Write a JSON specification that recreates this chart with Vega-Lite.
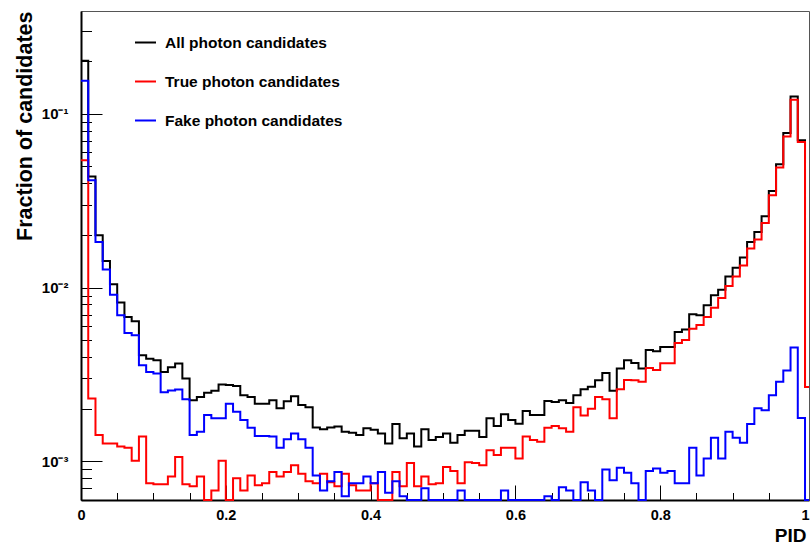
{
  "$schema": "https://vega.github.io/schema/vega-lite/v6.json",
  "width": 728,
  "height": 489,
  "autosize": {"type": "none"},
  "padding": {"left": 81, "top": 11, "right": 2, "bottom": 46},
  "background": "white",
  "config": {
    "view": {"stroke": "#555555", "strokeWidth": 1},
    "font": "Liberation Sans"
  },
  "encoding": {
    "x": {
      "field": "x",
      "type": "quantitative",
      "scale": {"domain": [0, 1.0055], "nice": false, "zero": false, "clamp": true},
      "axis": {
        "title": "PID",
        "titleFont": "Liberation Sans",
        "titleFontSize": 19,
        "titleFontWeight": "bold",
        "titleColor": "black",
        "titleAnchor": "end",
        "titleAlign": "right",
        "titleBaseline": "bottom",
        "titleX": 725,
        "titleY": 45.5,
        "values": [0, 0.05, 0.1, 0.15, 0.2, 0.25, 0.3, 0.35, 0.4, 0.45, 0.5, 0.55, 0.6, 0.65, 0.7, 0.75, 0.8, 0.85, 0.9, 0.95, 1],
        "labelExpr": "abs(datum.value*5 - round(datum.value*5)) < 0.01 ? format(datum.value, '~g') : ''",
        "labelFont": "Liberation Sans",
        "labelFontSize": 14.5,
        "labelFontWeight": "bold",
        "labelColor": "black",
        "labelBaseline": "top",
        "labelPadding": 23,
        "labelOverlap": false,
        "labelFlush": false,
        "tickSize": {"condition": {"test": "abs(datum.value*5 - round(datum.value*5)) < 0.01", "value": -15}, "value": -7.5},
        "tickColor": "black",
        "tickWidth": 1,
        "domainColor": "black",
        "domainWidth": 2,
        "grid": false
      }
    },
    "y": {
      "field": "y",
      "type": "quantitative",
      "scale": {"type": "log", "domain": [0.0006, 0.39], "nice": false, "clamp": true},
      "axis": {
        "title": "Fraction of candidates",
        "titleFont": "Liberation Sans",
        "titleFontSize": 21.5,
        "titleFontWeight": "bold",
        "titleColor": "black",
        "titleAngle": 270,
        "titleAnchor": "end",
        "titleAlign": "right",
        "titleBaseline": "alphabetic",
        "titleX": -50,
        "titleY": 0,
        "values": [0.0007, 0.0008, 0.0009, 0.001, 0.002, 0.003, 0.004, 0.005, 0.006, 0.007, 0.008, 0.009, 0.01, 0.02, 0.03, 0.04, 0.05, 0.06, 0.07, 0.08, 0.09, 0.1, 0.2, 0.3],
        "labelExpr": "datum.value > 0.095 && datum.value < 0.105 ? '10⁻¹' : datum.value > 0.0095 && datum.value < 0.0105 ? '10⁻²' : datum.value > 0.00095 && datum.value < 0.00105 ? '10⁻³' : ''",
        "labelFont": "Liberation Sans",
        "labelFontSize": 15,
        "labelFontWeight": "bold",
        "labelColor": "black",
        "labelAlign": "right",
        "labelBaseline": "middle",
        "labelPadding": 34,
        "labelOverlap": false,
        "labelFlush": false,
        "tickSize": {"condition": {"test": "abs(log(datum.value)/LN10 - round(log(datum.value)/LN10)) < 0.01", "value": -21}, "value": -10.5},
        "tickColor": "black",
        "tickWidth": 1,
        "domainColor": "black",
        "domainWidth": 2,
        "grid": false
      }
    },
    "color": {
      "type": "nominal",
      "scale": {
        "domain": ["All photon candidates", "True photon candidates", "Fake photon candidates"],
        "range": ["#000000", "#ff0000", "#0000ff"]
      },
      "legend": {
        "title": null,
        "orient": "none",
        "legendX": 53,
        "legendY": 20,
        "padding": 0,
        "symbolType": "stroke",
        "symbolSize": 441,
        "symbolStrokeWidth": 2,
        "labelFont": "Liberation Sans",
        "labelFontSize": 15.5,
        "labelFontWeight": "bold",
        "labelColor": "black",
        "labelOffset": 8,
        "labelLimit": 400,
        "rowPadding": 19
      }
    }
  },
  "layer": [
    {
      "data": {"values": [
        {"x":0,"y":0.202},{"x":0.01,"y":0.0436},{"x":0.02,"y":0.02},{"x":0.03,"y":0.0142},{"x":0.04,"y":0.01045},{"x":0.05,"y":0.0082},{"x":0.06,"y":0.00678},{"x":0.07,"y":0.0064},{"x":0.08,"y":0.00408},{"x":0.09,"y":0.0039},
        {"x":0.1,"y":0.00382},{"x":0.11,"y":0.00327},{"x":0.12,"y":0.00348},{"x":0.13,"y":0.00366},{"x":0.14,"y":0.003},{"x":0.15,"y":0.00225},{"x":0.16,"y":0.00235},{"x":0.17,"y":0.00248},{"x":0.18,"y":0.00255},{"x":0.19,"y":0.00277},
        {"x":0.2,"y":0.00275},{"x":0.21,"y":0.00272},{"x":0.22,"y":0.0024},{"x":0.23,"y":0.00235},{"x":0.24,"y":0.00215},{"x":0.25,"y":0.00215},{"x":0.26,"y":0.00225},{"x":0.27,"y":0.00202},{"x":0.28,"y":0.00222},{"x":0.29,"y":0.00237},
        {"x":0.3,"y":0.00211},{"x":0.31,"y":0.00205},{"x":0.32,"y":0.00157},{"x":0.33,"y":0.00153},{"x":0.34,"y":0.00157},{"x":0.35,"y":0.00159},{"x":0.36,"y":0.00148},{"x":0.37,"y":0.00146},{"x":0.38,"y":0.00142},{"x":0.39,"y":0.00155},
        {"x":0.4,"y":0.00152},{"x":0.41,"y":0.00145},{"x":0.42,"y":0.00127},{"x":0.43,"y":0.00164},{"x":0.44,"y":0.00136},{"x":0.45,"y":0.00145},{"x":0.46,"y":0.00122},{"x":0.47,"y":0.00153},{"x":0.48,"y":0.00133},{"x":0.49,"y":0.00138},
        {"x":0.5,"y":0.00145},{"x":0.51,"y":0.00128},{"x":0.52,"y":0.00142},{"x":0.53,"y":0.0015},{"x":0.54,"y":0.0015},{"x":0.55,"y":0.00138},{"x":0.56,"y":0.00177},{"x":0.57,"y":0.0016},{"x":0.58,"y":0.00187},{"x":0.59,"y":0.00173},
        {"x":0.6,"y":0.00165},{"x":0.61,"y":0.00195},{"x":0.62,"y":0.00185},{"x":0.63,"y":0.00185},{"x":0.64,"y":0.00223},{"x":0.65,"y":0.0022},{"x":0.66,"y":0.00225},{"x":0.67,"y":0.00217},{"x":0.68,"y":0.0024},{"x":0.69,"y":0.0026},
        {"x":0.7,"y":0.00269},{"x":0.71,"y":0.00293},{"x":0.72,"y":0.00323},{"x":0.73,"y":0.00255},{"x":0.74,"y":0.00342},{"x":0.75,"y":0.00382},{"x":0.76,"y":0.00368},{"x":0.77,"y":0.00342},{"x":0.78,"y":0.00437},{"x":0.79,"y":0.0043},
        {"x":0.8,"y":0.00456},{"x":0.81,"y":0.00456},{"x":0.82,"y":0.00556},{"x":0.83,"y":0.00574},{"x":0.84,"y":0.00703},{"x":0.85,"y":0.00694},{"x":0.86,"y":0.00791},{"x":0.87,"y":0.00903},{"x":0.88,"y":0.00973},{"x":0.89,"y":0.0116},
        {"x":0.9,"y":0.013},{"x":0.91,"y":0.0149},{"x":0.92,"y":0.0183},{"x":0.93,"y":0.0209},{"x":0.94,"y":0.0257},{"x":0.95,"y":0.0359},{"x":0.96,"y":0.0512},{"x":0.97,"y":0.0774},{"x":0.98,"y":0.1256},{"x":0.99,"y":0.0703},
        {"x":1,"y":0.00268},{"x":1.01,"y":0.00268}
      ]},
      "mark": {"type": "line", "interpolate": "step-after", "strokeWidth": 2, "clip": false},
      "encoding": {"color": {"datum": "All photon candidates", "type": "nominal"}}
    },
    {
      "data": {"values": [
        {"x":0,"y":0.054},{"x":0.01,"y":0.0023},{"x":0.02,"y":0.00142},{"x":0.03,"y":0.00127},{"x":0.04,"y":0.00127},{"x":0.05,"y":0.00122},{"x":0.06,"y":0.0012},{"x":0.07,"y":0.00101},{"x":0.08,"y":0.00139},{"x":0.09,"y":0.00075},
        {"x":0.1,"y":0.00074},{"x":0.11,"y":0.00074},{"x":0.12,"y":0.00082},{"x":0.13,"y":0.00106},{"x":0.14,"y":0.00074},{"x":0.15,"y":0.00072},{"x":0.16,"y":0.00082},{"x":0.17,"y":0.0005},{"x":0.18,"y":0.00068},{"x":0.19,"y":0.00101},
        {"x":0.2,"y":0.0005},{"x":0.21,"y":0.0008},{"x":0.22,"y":0.00068},{"x":0.23,"y":0.00083},{"x":0.24,"y":0.00073},{"x":0.25,"y":0.00075},{"x":0.26,"y":0.00087},{"x":0.27,"y":0.00082},{"x":0.28,"y":0.00087},{"x":0.29,"y":0.00095},
        {"x":0.3,"y":0.00085},{"x":0.31,"y":0.00077},{"x":0.32,"y":0.00075},{"x":0.33,"y":0.00085},{"x":0.34,"y":0.00076},{"x":0.35,"y":0.00072},{"x":0.36,"y":0.00085},{"x":0.37,"y":0.00073},{"x":0.38,"y":0.00068},{"x":0.39,"y":0.00068},
        {"x":0.4,"y":0.00075},{"x":0.41,"y":0.0005},{"x":0.42,"y":0.0005},{"x":0.43,"y":0.00087},{"x":0.44,"y":0.00072},{"x":0.45,"y":0.00098},{"x":0.46,"y":0.00072},{"x":0.47,"y":0.00082},{"x":0.48,"y":0.00074},{"x":0.49,"y":0.00075},
        {"x":0.5,"y":0.00093},{"x":0.51,"y":0.00088},{"x":0.52,"y":0.00075},{"x":0.53,"y":0.00099},{"x":0.54,"y":0.00098},{"x":0.55,"y":0.00095},{"x":0.56,"y":0.00116},{"x":0.57,"y":0.00109},{"x":0.58,"y":0.0012},{"x":0.59,"y":0.0012},
        {"x":0.6,"y":0.00104},{"x":0.61,"y":0.00139},{"x":0.62,"y":0.00133},{"x":0.63,"y":0.0013},{"x":0.64,"y":0.00156},{"x":0.65,"y":0.0016},{"x":0.66,"y":0.00155},{"x":0.67,"y":0.00148},{"x":0.68,"y":0.00205},{"x":0.69,"y":0.00184},
        {"x":0.7,"y":0.00201},{"x":0.71,"y":0.00235},{"x":0.72,"y":0.00228},{"x":0.73,"y":0.00177},{"x":0.74,"y":0.0026},{"x":0.75,"y":0.00294},{"x":0.76,"y":0.00293},{"x":0.77,"y":0.00287},{"x":0.78,"y":0.00345},{"x":0.79,"y":0.00336},
        {"x":0.8,"y":0.00367},{"x":0.81,"y":0.00367},{"x":0.82,"y":0.0048},{"x":0.83,"y":0.005},{"x":0.84,"y":0.0058},{"x":0.85,"y":0.0061},{"x":0.86,"y":0.00677},{"x":0.87,"y":0.00766},{"x":0.88,"y":0.0087},{"x":0.89,"y":0.0102},
        {"x":0.9,"y":0.0116},{"x":0.91,"y":0.0134},{"x":0.92,"y":0.0168},{"x":0.93,"y":0.0189},{"x":0.94,"y":0.0235},{"x":0.95,"y":0.034},{"x":0.96,"y":0.049},{"x":0.97,"y":0.0741},{"x":0.98,"y":0.1203},{"x":0.99,"y":0.0687},
        {"x":1,"y":0.00268},{"x":1.01,"y":0.00268}
      ]},
      "mark": {"type": "line", "interpolate": "step-after", "strokeWidth": 2, "clip": false},
      "encoding": {"color": {"datum": "True photon candidates", "type": "nominal"}}
    },
    {
      "data": {"values": [
        {"x":0,"y":0.155},{"x":0.01,"y":0.0414},{"x":0.02,"y":0.0183},{"x":0.03,"y":0.0127},{"x":0.04,"y":0.0091},{"x":0.05,"y":0.00694},{"x":0.06,"y":0.00548},{"x":0.07,"y":0.00532},{"x":0.08,"y":0.00358},{"x":0.09,"y":0.00327},
        {"x":0.1,"y":0.00321},{"x":0.11,"y":0.0025},{"x":0.12,"y":0.00256},{"x":0.13,"y":0.00259},{"x":0.14,"y":0.00228},{"x":0.15,"y":0.00142},{"x":0.16,"y":0.00148},{"x":0.17,"y":0.00185},{"x":0.18,"y":0.00177},{"x":0.19,"y":0.00177},
        {"x":0.2,"y":0.00215},{"x":0.21,"y":0.00193},{"x":0.22,"y":0.00173},{"x":0.23,"y":0.00156},{"x":0.24,"y":0.0014},{"x":0.25,"y":0.0014},{"x":0.26,"y":0.00139},{"x":0.27,"y":0.0012},{"x":0.28,"y":0.00134},{"x":0.29,"y":0.00145},
        {"x":0.3,"y":0.00134},{"x":0.31,"y":0.0012},{"x":0.32,"y":0.00083},{"x":0.33,"y":0.00068},{"x":0.34,"y":0.00077},{"x":0.35,"y":0.00087},{"x":0.36,"y":0.00063},{"x":0.37,"y":0.00075},{"x":0.38,"y":0.00075},{"x":0.39,"y":0.00082},
        {"x":0.4,"y":0.00075},{"x":0.41,"y":0.00087},{"x":0.42,"y":0.00066},{"x":0.43,"y":0.00077},{"x":0.44,"y":0.00063},{"x":0.45,"y":0.0005},{"x":0.46,"y":0.0005},{"x":0.47,"y":0.0007},{"x":0.48,"y":0.0005},{"x":0.49,"y":0.0005},
        {"x":0.5,"y":0.0005},{"x":0.51,"y":0.0005},{"x":0.52,"y":0.00068},{"x":0.53,"y":0.0005},{"x":0.54,"y":0.0005},{"x":0.55,"y":0.0005},{"x":0.56,"y":0.0005},{"x":0.57,"y":0.0005},{"x":0.58,"y":0.00068},{"x":0.59,"y":0.0005},
        {"x":0.6,"y":0.0005},{"x":0.61,"y":0.0005},{"x":0.62,"y":0.0005},{"x":0.63,"y":0.0005},{"x":0.64,"y":0.00063},{"x":0.65,"y":0.0005},{"x":0.66,"y":0.00071},{"x":0.67,"y":0.00068},{"x":0.68,"y":0.0005},{"x":0.69,"y":0.00076},
        {"x":0.7,"y":0.00068},{"x":0.71,"y":0.0005},{"x":0.72,"y":0.0009},{"x":0.73,"y":0.00078},{"x":0.74,"y":0.00092},{"x":0.75,"y":0.00086},{"x":0.76,"y":0.00075},{"x":0.77,"y":0.0005},{"x":0.78,"y":0.00088},{"x":0.79,"y":0.00091},
        {"x":0.8,"y":0.00086},{"x":0.81,"y":0.00088},{"x":0.82,"y":0.00075},{"x":0.83,"y":0.00075},{"x":0.84,"y":0.0012},{"x":0.85,"y":0.00083},{"x":0.86,"y":0.00104},{"x":0.87,"y":0.00137},{"x":0.88,"y":0.00104},{"x":0.89,"y":0.00148},
        {"x":0.9,"y":0.00137},{"x":0.91,"y":0.00128},{"x":0.92,"y":0.00164},{"x":0.93,"y":0.00202},{"x":0.94,"y":0.00197},{"x":0.95,"y":0.0024},{"x":0.96,"y":0.00287},{"x":0.97,"y":0.00333},{"x":0.98,"y":0.00452},{"x":0.99,"y":0.00178},
        {"x":1,"y":0.0005},{"x":1.01,"y":0.0005}
      ]},
      "mark": {"type": "line", "interpolate": "step-after", "strokeWidth": 2, "clip": false},
      "encoding": {"color": {"datum": "Fake photon candidates", "type": "nominal"}}
    }
  ]
}
